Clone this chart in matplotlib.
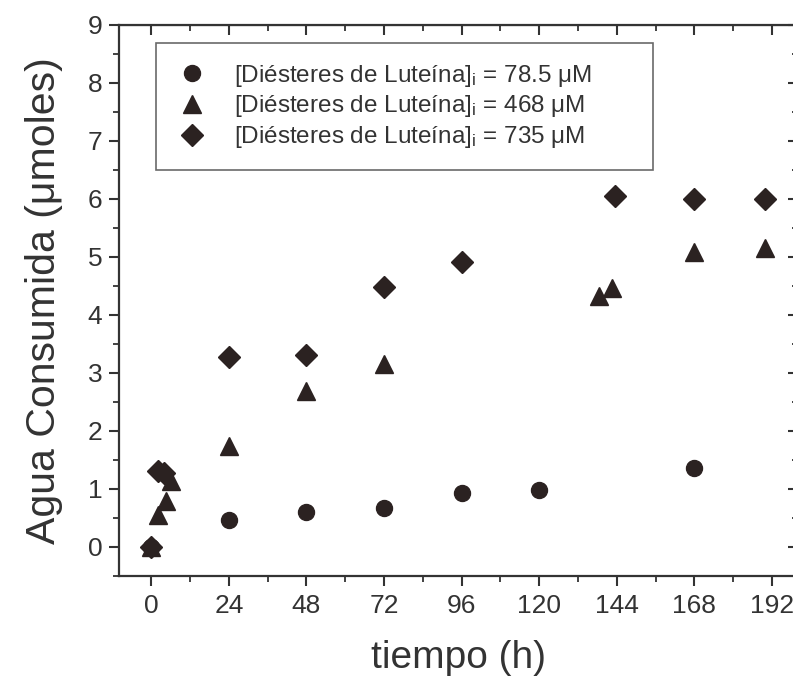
import matplotlib
matplotlib.use("Agg")
import matplotlib.pyplot as plt
from matplotlib.ticker import MultipleLocator

plt.rcParams['font.family'] = ['Liberation Sans', 'DejaVu Sans']
plt.rcParams['mathtext.default'] = 'regular'

# tiempo (h) y agua consumida (umoles) por concentracion inicial
t_785 = [0, 24, 48, 72, 96, 120, 168]
agua_785 = [0.0, 0.46, 0.6, 0.67, 0.93, 0.97, 1.35]

t_468 = [0, 2, 4.5, 6, 24, 48, 72, 138.5, 142.5, 168, 190]
agua_468 = [0.0, 0.55, 0.79, 1.14, 1.74, 2.69, 3.16, 4.32, 4.47, 5.08, 5.16]

t_735 = [0, 2, 4, 24, 48, 72, 96, 143.5, 168, 190]
agua_735 = [0.0, 1.31, 1.28, 3.27, 3.3, 4.48, 4.91, 6.05, 5.99, 5.99]

etiquetas = [r'[Diésteres de Luteína]$_i$ = 78.5 μM',
             r'[Diésteres de Luteína]$_i$ = 468 μM',
             r'[Diésteres de Luteína]$_i$ = 735 μM']

color = '#2b2221'
gris = '#333333'

fig = plt.figure(figsize=(7.93, 6.81), dpi=100)
# el borde derecho queda justo fuera de la figura
ax = fig.add_axes([0.150, 0.1546, 0.856, 0.8087])

ax.plot(t_785, agua_785, 'o', ms=11.5, color=color, label=etiquetas[0])
ax.plot(t_468, agua_468, '^', ms=13, color=color, label=etiquetas[1])
ax.plot(t_735, agua_735, 'D', ms=11, color=color, label=etiquetas[2])

ax.set_xlim(-10, 200)
ax.set_ylim(-0.5, 9)
ax.xaxis.set_major_locator(MultipleLocator(24))
ax.xaxis.set_minor_locator(MultipleLocator(12))
ax.yaxis.set_major_locator(MultipleLocator(1))
ax.yaxis.set_minor_locator(MultipleLocator(0.5))

for s in ax.spines.values():
    s.set_linewidth(1.6)
    s.set_color(gris)

# ticks afuera en los ejes principales, adentro arriba y a la derecha
ax.tick_params(axis='both', which='major', length=7, width=1.5,
               labelsize=19, color=gris, labelcolor=gris)
ax.tick_params(axis='both', which='minor', length=4, width=1.3, color=gris)
ax.tick_params(axis='x', which='both', direction='out', pad=6)
ax.tick_params(axis='y', which='both', direction='out', pad=5)

axt = ax.secondary_xaxis('top')
axt.xaxis.set_major_locator(MultipleLocator(24))
axt.xaxis.set_minor_locator(MultipleLocator(12))
axt.tick_params(which='both', direction='in', labeltop=False, color=gris)
axt.tick_params(which='major', length=7, width=1.5)
axt.tick_params(which='minor', length=4, width=1.3)
axr = ax.secondary_yaxis('right')
axr.yaxis.set_major_locator(MultipleLocator(1))
axr.yaxis.set_minor_locator(MultipleLocator(0.5))
axr.tick_params(which='both', direction='in', labelright=False, color=gris)
axr.tick_params(which='major', length=7, width=1.5)
axr.tick_params(which='minor', length=4, width=1.3)

ax.set_xlabel('tiempo (h)', fontsize=28, color=gris, labelpad=16)
ax.set_ylabel('Agua Consumida (μmoles)', fontsize=29.5, color=gris, labelpad=18)

# leyenda en caja ancha, arriba a la izquierda
leg = ax.legend(loc='upper left', bbox_to_anchor=(0.0546, 0.967, 0.732, 0.0),
                mode='expand', fontsize=17.5,
                frameon=True, fancybox=False, edgecolor='#444444',
                handletextpad=1.0, borderpad=0.8, labelspacing=0.2,
                handlelength=1.4, borderaxespad=0)
leg.get_frame().set_linewidth(1.2)
for txt in leg.get_texts():
    txt.set_color(gris)

fig.savefig('out.png', dpi=100)
